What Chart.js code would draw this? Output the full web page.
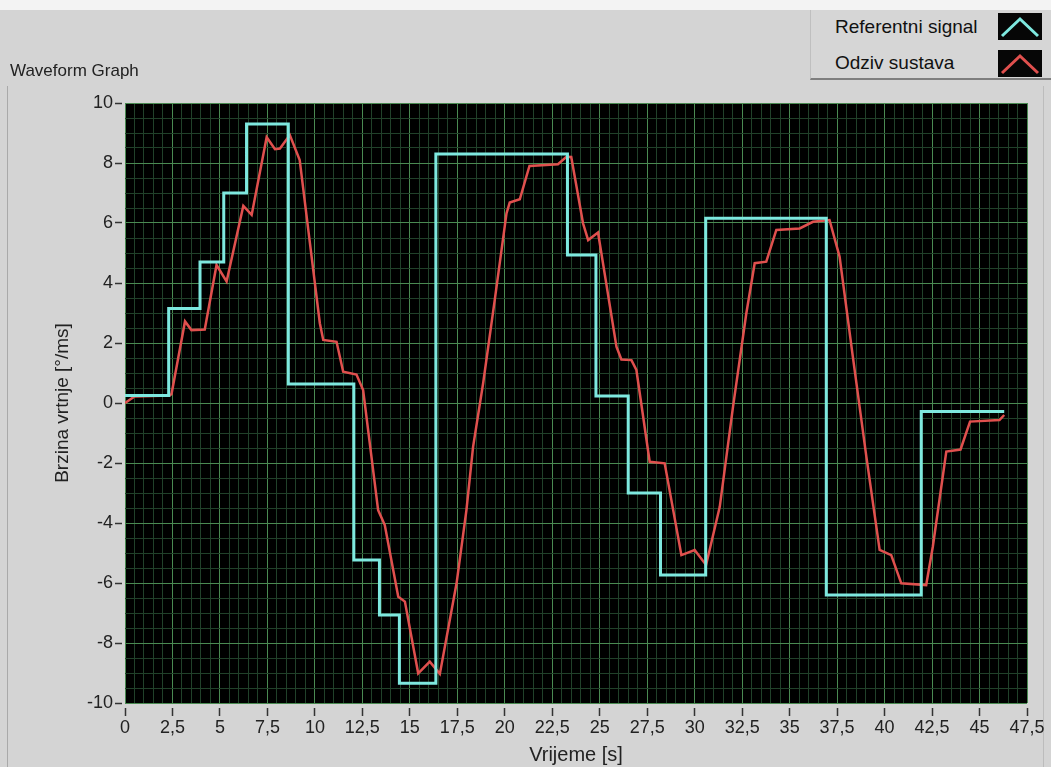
<!DOCTYPE html>
<html>
<head>
<meta charset="utf-8">
<script src="https://cdn.jsdelivr.net/npm/chart.js@4/dist/chart.umd.min.js"></script>
<style>
  html, body { margin: 0; padding: 0; background: #d4d4d4; }
  body { width: 1051px; height: 767px; position: relative; overflow: hidden; font-family: "Liberation Sans", Arial, sans-serif; }
  #vrh { position: absolute; left: 0; top: 0; width: 1051px; height: 10px; background: #f3f3f3; }
  #rubL { position: absolute; left: 7px; top: 86px; width: 1px; height: 681px; background: #a9a9a9; }
  #rubD { position: absolute; left: 1043px; top: 86px; width: 1px; height: 681px; background: #bcbcbc; }
  #graf { position: absolute; left: 0; top: 0; }
  #naslov { position: absolute; left: 10px; top: 61px; font-size: 17px; color: #222; }
  #legenda { position: absolute; left: 810px; top: 10px; width: 241px; height: 68px; background: #d6d6d6;
             border-left: 1px solid #bfbfbf; border-bottom: 2px solid #7e7e7e; z-index: 2; }
  .stavka { position: absolute; left: 24px; font-size: 19px; line-height: 22px; color: #111; white-space: nowrap; }
  .uzorak { position: absolute; left: 187px; width: 44px; height: 27px; background: #060606; }
</style>
</head>
<body>
<div id="vrh"></div>
<div id="rubL"></div>
<div id="rubD"></div>
<canvas id="graf" width="1051" height="767"></canvas>
<div id="naslov">Waveform Graph</div>
<div id="legenda">
  <div class="stavka" style="top:6px">Referentni signal</div>
  <div class="uzorak" style="top:3px">
    <svg width="44" height="27"><polyline points="4,23 22,6 40,23" fill="none" stroke="#7ee8df" stroke-width="3"/></svg>
  </div>
  <div class="stavka" style="top:42px">Odziv sustava</div>
  <div class="uzorak" style="top:40px">
    <svg width="44" height="27"><polyline points="4,23 22,6 40,23" fill="none" stroke="#e0504e" stroke-width="3"/></svg>
  </div>
</div>
<script>
// referentni signal: trenutak promjene [s] i nova vrijednost
const refVrijeme = [0, 2.3, 3.95, 5.2, 6.4, 8.6, 12.05, 13.4, 14.45, 16.37, 23.3, 24.8, 26.5, 28.2, 30.58, 36.93, 41.93, 46.3];
const refSignal  = [0.25, 3.15, 4.7, 7.0, 9.3, 0.63, -5.23, -7.07, -9.34, 8.3, 4.93, 0.23, -3.0, -5.73, 6.16, -6.4, -0.28, -0.28];

// odziv sustava
const odzivVrijeme = [
  0, 0.5, 2.35, 2.45, 3.16, 3.5, 4.2, 4.82, 5.35, 6.23, 6.67, 7.46, 7.9, 8.16, 8.68,
  9.2, 9.74, 10.26, 10.44, 11.14, 11.49, 12.19, 12.54, 13.33, 13.68, 14.39, 14.74,
  15.44, 16.05, 16.58, 17.46, 17.98, 18.33, 18.86, 19.47, 20.09, 20.26, 20.79, 21.3,
  22.8, 23.25, 23.5, 24.12, 24.39, 24.91, 25.88, 26.14, 26.67, 26.93, 27.63, 28.42,
  29.3, 30.0, 30.6, 31.32, 32.02, 32.72, 33.16, 33.77, 34.3, 35.53, 36.23, 37.1,
  37.63, 38.33, 39.04, 39.74, 40.35, 40.88, 42.19, 42.54, 43.25, 44.0, 44.5, 46.05, 46.3
];
const odziv = [
  0, 0.22, 0.25, 0.3, 2.72, 2.43, 2.45, 4.6, 4.05, 6.57, 6.27, 8.86, 8.46, 8.48, 8.93,
  8.1, 5.32, 2.66, 2.1, 2.04, 1.04, 0.95, 0.43, -3.57, -4.07, -6.46, -6.62,
  -9.01, -8.62, -9.03, -6.01, -3.57, -1.46, 0.66, 3.43, 6.32, 6.68, 6.79, 7.9,
  7.96, 8.21, 8.2, 5.99, 5.43, 5.68, 1.88, 1.45, 1.43, 1.1, -1.96, -2.01,
  -5.07, -4.9, -5.4, -3.46, -0.12, 2.99, 4.66, 4.71, 5.77, 5.82, 6.04, 6.1,
  4.88, 1.54, -1.79, -4.9, -5.07, -6.01, -6.07, -4.79, -1.62, -1.55, -0.62, -0.57, -0.4
];

// oznake osi
const xOznake = [0, 2.5, 5, 7.5, 10, 12.5, 15, 17.5, 20, 22.5, 25, 27.5, 30, 32.5, 35, 37.5, 40, 42.5, 45, 47.5];
const yOznake = [-10, -8, -6, -4, -2, 0, 2, 4, 6, 8, 10];

const GLAVNA = "#4a8a52";
const SPOREDNA = "#21412a";

function glavna(v, oznake) {
  return oznake.some(o => Math.abs(o - v) < 1e-6);
}

const crnaPozadina = {
  id: "crnaPozadina",
  beforeDraw(chart) {
    const { ctx, chartArea: a } = chart;
    ctx.save();
    ctx.fillStyle = "#000";
    ctx.fillRect(a.left, a.top, a.right - a.left, a.bottom - a.top);
    ctx.restore();
  }
};

Chart.defaults.font.family = '"Liberation Sans", Arial, sans-serif';

new Chart(document.getElementById("graf"), {
  type: "line",
  data: {
    datasets: [
      {
        label: "Referentni signal",
        data: refVrijeme.map((t, i) => ({ x: t, y: refSignal[i] })),
        borderColor: "#7ee8df",
        borderWidth: 3,
        stepped: true,
        pointRadius: 0
      },
      {
        label: "Odziv sustava",
        data: odzivVrijeme.map((t, i) => ({ x: t, y: odziv[i] })),
        borderColor: "#e0504e",
        borderWidth: 2.5,
        tension: 0,
        pointRadius: 0
      }
    ]
  },
  options: {
    responsive: false,
    animation: false,
    devicePixelRatio: 1,
    events: [],
    layout: { padding: { top: 103, right: 24, left: 0, bottom: 0 } },
    plugins: { legend: { display: false }, tooltip: { enabled: false } },
    scales: {
      x: {
        type: "linear",
        min: 0,
        max: 47.5,
        border: { display: false },
        ticks: {
          stepSize: 0.5,
          autoSkip: false,
          maxRotation: 0,
          padding: 1,
          color: "#222",
          font: { size: 18 },
          callback: v => glavna(v, xOznake) ? String(v).replace(".", ",") : ""
        },
        grid: {
          lineWidth: 1,
          color: c => glavna(c.tick.value, xOznake) ? GLAVNA : SPOREDNA,
          tickLength: 13,
          tickWidth: 1.5,
          tickBorderDash: [0, 5, 8, 20],
          tickColor: c => glavna(c.tick.value, xOznake) ? "#333" : "rgba(0,0,0,0)"
        },
        title: {
          display: true,
          text: "Vrijeme [s]",
          color: "#222",
          font: { size: 20 },
          padding: { top: 0, bottom: 0 }
        },
        afterFit: s => { s.height = 64; }
      },
      y: {
        min: -10,
        max: 10,
        border: { display: false },
        ticks: {
          stepSize: 0.5,
          autoSkip: false,
          padding: 2,
          color: "#222",
          font: { size: 18 },
          callback: v => glavna(v, yOznake) ? String(v) : ""
        },
        grid: {
          lineWidth: 1,
          color: c => glavna(c.tick.value, yOznake) ? GLAVNA : SPOREDNA,
          tickLength: 10,
          tickWidth: 1.5,
          tickBorderDash: [7, 20],
          tickColor: c => glavna(c.tick.value, yOznake) ? "#333" : "rgba(0,0,0,0)"
        },
        title: {
          display: true,
          text: "Brzina vrtnje [°/ms]",
          color: "#222",
          font: { size: 19 },
          padding: { top: 51, bottom: 0 }
        },
        afterFit: s => { s.width = 125; }
      }
    }
  },
  plugins: [crnaPozadina]
});
</script>
</body>
</html>
